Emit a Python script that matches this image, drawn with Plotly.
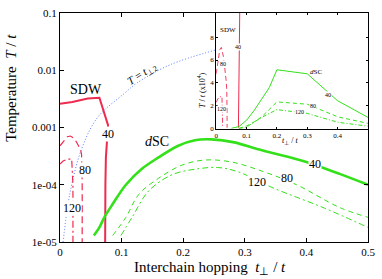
import plotly.graph_objects as go

# ---------------- data (main panel, T/t absolute) ----------------
sdw40_t = [0.0, 0.02, 0.045, 0.064, 0.078, 0.0755, 0.0745, 0.0737, 0.0733]
sdw40_T = [2.6e-3, 2.8e-3, 3.2e-3, 3.3e-3, 1.1e-3, 5.0e-4, 3.0e-4, 1.0e-4, 1.0e-5]

sdw80_t = [0.0, 0.005, 0.012, 0.017, 0.024, 0.033, 0.035, 0.036, 0.036]
sdw80_T = [4.8e-4, 5.6e-4, 6.9e-4, 7.1e-4, 6.3e-4, 4.2e-4, 3.4e-4, 1.0e-4, 1.0e-5]

sdw120_t = [0.0, 0.005, 0.012, 0.019, 0.021, 0.021]
sdw120_T = [2.3e-4, 2.6e-4, 2.8e-4, 2.8e-4, 1.0e-4, 1.0e-5]

dsc40_t = [0.055, 0.064, 0.072, 0.0855, 0.107, 0.133, 0.160, 0.192, 0.219, 0.246,
           0.283, 0.320, 0.374, 0.400, 0.454, 0.5]
dsc40_T = [1.3e-5, 1.8e-5, 2.7e-5, 4.6e-5, 1.0e-4, 1.9e-4, 3.0e-4, 4.8e-4, 6.0e-4, 6.2e-4,
           5.5e-4, 4.2e-4, 3.0e-4, 2.5e-4, 1.55e-4, 1.0e-4]

dsc80_t = [0.0855, 0.107, 0.128, 0.160, 0.198, 0.235, 0.278, 0.330, 0.384, 0.454, 0.5]
dsc80_T = [1.3e-5, 2.7e-5, 6.8e-5, 1.3e-4, 2.2e-4, 2.7e-4, 2.5e-4, 1.7e-4, 1.0e-4, 4.0e-5, 2.7e-5]

dsc120_t = [0.099, 0.117, 0.144, 0.182, 0.224, 0.256, 0.288, 0.347, 0.427, 0.5]
dsc120_T = [1.3e-5, 2.7e-5, 7.8e-5, 1.5e-4, 1.9e-4, 2.0e-4, 1.7e-4, 8.7e-5, 4.0e-5, 1.8e-5]

tperp2_t = [0.005, 0.016, 0.035, 0.061, 0.104, 0.125, 0.179, 0.252]
tperp2_T = [1.0e-5, 7.0e-5, 4.2e-4, 1.5e-3, 3.9e-3, 6.0e-3, 1.25e-2, 2.25e-2]

# ---------------- data (inset, T/t in units of 1e-4) ----------------
ins_dsc40_t = [0.05, 0.075, 0.1, 0.125, 0.15, 0.175, 0.2, 0.3, 0.4, 0.5]
ins_dsc40_T = [0.05, 0.2, 0.75, 1.6, 2.6, 3.6, 5.15, 4.8, 2.45, 1.0]
ins_dsc80_t = [0.075, 0.1, 0.125, 0.15, 0.2, 0.3, 0.4, 0.5]
ins_dsc80_T = [0.05, 0.25, 0.6, 1.05, 2.35, 2.15, 1.05, 0.48]
ins_dsc120_t = [0.075, 0.1, 0.125, 0.15, 0.2, 0.3, 0.4, 0.5]
ins_dsc120_T = [0.02, 0.15, 0.6, 1.0, 1.68, 1.35, 0.58, 0.23]

main_xticks = [0, 0.1, 0.2, 0.3, 0.4, 0.5]
main_xtick_text = ["0", "0.1", "0.2", "0.3", "0.4", "0.5"]
main_yticks = [1e-5, 1e-4, 1e-3, 1e-2, 1e-1]
main_ytick_text = ["1e-05", "1e-04", "0.001", "0.01", "0.1"]
ins_xticks = [0, 0.1, 0.2, 0.3, 0.4]
ins_xtick_text = ["0", "0.1", "0.2", "0.3", "0.4"]
ins_yticks = [0, 2, 4, 6, 8]
ins_ytick_text = ["0", "2", "4", "6", "8"]

SCALE = 1e4
RED = "#ee2a4e"
GREEN = "#33e01a"
BLUE = "#5577ff"
FONT = "Liberation Serif"

fig = go.Figure()

def add(x, y, color, width, dash, xa="x", ya="y", shape="linear"):
    fig.add_trace(go.Scatter(x=x, y=y, mode="lines", xaxis=xa, yaxis=ya,
                             line=dict(color=color, width=width, dash=dash, shape=shape),
                             showlegend=False, hoverinfo="skip"))

# main panel
add(tperp2_t, tperp2_T, BLUE, 1, "1px,2px", shape="spline")
add(sdw40_t, sdw40_T, RED, 2, "solid")
add(sdw80_t, sdw80_T, RED, 1.2, "7px,4px")
add(sdw120_t, sdw120_T, RED, 1.2, "7px,3px,2px,3px")
add(dsc40_t, dsc40_T, GREEN, 2.6, "solid", shape="spline")
add(dsc80_t, dsc80_T, GREEN, 1, "5px,4px", shape="spline")
add(dsc120_t, dsc120_T, GREEN, 1, "6px,3px,2px,3px", shape="spline")

# inset
add(sdw40_t, [v * SCALE for v in sdw40_T], RED, 1, "solid", "x2", "y2")
add(sdw80_t, [v * SCALE for v in sdw80_T], RED, 0.9, "5px,3px", "x2", "y2")
add(sdw120_t, [v * SCALE for v in sdw120_T], RED, 0.9, "5px,2px,1px,2px", "x2", "y2")
add(ins_dsc40_t, ins_dsc40_T, GREEN, 1, "solid", "x2", "y2")
add(ins_dsc80_t, ins_dsc80_T, GREEN, 1, "4px,3px", "x2", "y2")
add(ins_dsc120_t, ins_dsc120_T, GREEN, 1, "4px,2px,1px,2px", "x2", "y2")

axis_common = dict(showgrid=False, zeroline=False, showline=True, linecolor="black",
                   linewidth=1, mirror="ticks", ticks="inside", tickcolor="black")

fig.update_layout(
    width=382, height=279,
    margin=dict(l=60, r=10, t=7, b=37),
    paper_bgcolor="white", plot_bgcolor="white",
    font=dict(family=FONT, color="black"),
    xaxis=dict(range=[0, 0.5], tickvals=main_xticks, ticktext=main_xtick_text,
               ticklen=4, tickfont=dict(size=11, family=FONT), domain=[0, 1], **axis_common),
    yaxis=dict(type="log", range=[-5, -1], tickvals=main_yticks, ticktext=main_ytick_text,
               ticklen=4, tickfont=dict(size=11, family=FONT), domain=[0, 1], **axis_common),
    xaxis2=dict(range=[0, 0.5], tickvals=ins_xticks, ticktext=ins_xtick_text,
                ticklen=2, tickfont=dict(size=7, family=FONT), domain=[0.507, 1],
                anchor="y2", **axis_common),
    yaxis2=dict(range=[0, 10.1], tickvals=ins_yticks, ticktext=ins_ytick_text,
                ticklen=2, tickfont=dict(size=7, family=FONT), domain=[0.494, 1],
                anchor="x2", **axis_common),
)

ann = []
def txt(x, y, s, size, xref="x", yref="y", angle=0, bg=None):
    d = dict(x=x, y=y, xref=xref, yref=yref, text=s, showarrow=False,
             font=dict(size=size, family=FONT, color="black"), textangle=angle,
             xanchor="center", yanchor="middle", borderpad=0)
    if bg:
        d["bgcolor"] = bg
    ann.append(d)

# main labels (y in log10 units)
txt(0.0428, -2.33, "SDW", 14)
txt(0.133, -2.06, "<i>T</i> = <i>t</i><sub>⊥2</sub>", 11, angle=-33)
txt(0.0774, -3.12, "40", 12, bg="white")
txt(0.040, -3.745, "80", 12, bg="white")
txt(0.0188, -4.40, "120", 12, bg="white")
txt(0.1575, -3.247, "<i>d</i>SC", 14)
txt(0.4135, -3.633, "40", 12, bg="white")
txt(0.3686, -3.888, "80", 12, bg="white")
txt(0.319, -3.945, "120", 12, bg="white")

# inset labels
txt(0.038, 8.63, "SDW", 7, "x2", "y2")
txt(0.0725, 7.17, "40", 6, "x2", "y2", bg="white")
txt(0.024, 5.69, "80", 6, "x2", "y2", bg="white")
txt(0.016, 1.76, "120", 6, "x2", "y2", bg="white")
txt(0.329, 4.98, "<i>d</i>SC", 7, "x2", "y2")
txt(0.367, 2.97, "40", 6, "x2", "y2", bg="white")
txt(0.318, 1.96, "80", 6, "x2", "y2", bg="white")
txt(0.275, 1.49, "120", 6, "x2", "y2", bg="white")

# axis titles
txt(-0.160, 0.672, "Temperature  <i>T</i> / <i>t</i>", 15, "paper", "paper", angle=-90)
txt(0.487, -0.115, "Interchain hopping  <i>t</i><sub>⊥</sub> / <i>t</i>", 15, "paper", "paper")
txt(0.458, 0.660, "<i>T</i> / <i>t</i> (x10<sup>4</sup>)", 8, "paper", "paper", angle=-90)
txt(0.747, 0.443, "<i>t</i><sub>⊥</sub> / <i>t</i>", 8, "paper", "paper")

fig.update_layout(annotations=ann)

fig.write_html("out.html", config={"displayModeBar": False})

# remove the default page margin so the figure sits at the window's top-left corner
with open("out.html", "r", encoding="utf-8") as f:
    html = f.read()
html = html.replace("<head>", "<head><style>html,body{margin:0;padding:0;overflow:hidden;}</style>", 1)
with open("out.html", "w", encoding="utf-8") as f:
    f.write(html)
